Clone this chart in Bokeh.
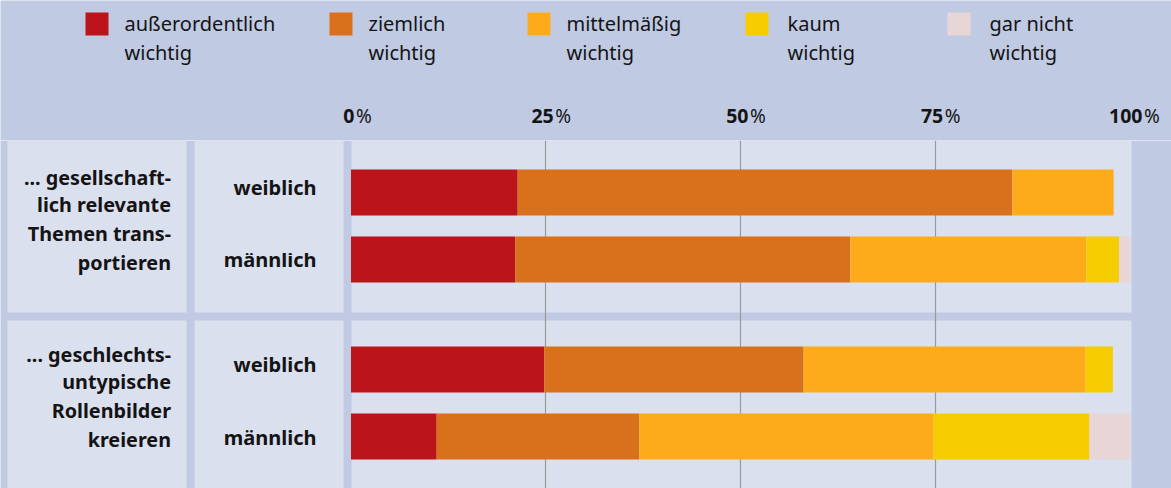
from bokeh.plotting import figure
from bokeh.models import ColumnDataSource, Range1d, FactorRange, Grid, FixedTicker
from bokeh.layouts import column
from bokeh.core.properties import value
from bokeh.embed import file_html
from bokeh.resources import INLINE

# ---------------- data ----------------
categories = ["außerordentlich wichtig", "ziemlich wichtig", "mittelmäßig wichtig",
              "kaum wichtig", "gar nicht wichtig"]
colors = ["#bb141a", "#d9701b", "#fdab1b", "#f5cd00", "#e8d5d5"]

groups = ["gesellschaftlich relevante Themen transportieren",
          "geschlechtsuntypische Rollenbilder kreieren"]
group_lines = [["... gesellschaft-", "lich relevante", "Themen trans-", "portieren"],
               ["... geschlechts-", "untypische", "Rollenbilder", "kreieren"]]
genders = ["weiblich", "männlich"]

# shares in %, in the order of `categories`
g1_weiblich = [21.4, 63.5, 13.0, 0.0, 0.0]
g1_maennlich = [21.1, 43.0, 30.3, 4.2, 1.4]
g2_weiblich = [24.8, 33.3, 36.2, 3.5, 0.0]
g2_maennlich = [11.0, 26.0, 37.8, 20.0, 5.2]

tick_values = [0, 25, 50, 75, 100]
tick_suffix = "%"

# ---------------- styling / layout ----------------
BG = "#c0cae3"
PANEL = "#dbe0ef"
TEXT = "#141414"
FONT = value("Noto Sans")
TY = -8.5          # vertical text correction (px)

W = 1171
HEAD_H = 140
MAIN_H = 348
X0_PX = 350.5      # pixel of 0 %
PX_PER = 7.79      # pixels per percent


def pct(px):
    return (px - X0_PX) / PX_PER


x_range = Range1d(pct(0), pct(W))

# ---------------- header (legend + tick labels) ----------------
head = figure(width=W, height=HEAD_H, x_range=x_range, y_range=Range1d(HEAD_H, 0),
              output_backend="svg", toolbar_location=None, tools="",
              x_axis_location=None, y_axis_location=None, min_border=0,
              outline_line_color=None, background_fill_color=BG, border_fill_color=BG)
head.grid.visible = False

sq_px = [85, 329, 527, 745, 947]
txt_px = [124, 368, 566, 787, 989]
head.quad(left=[pct(v) for v in sq_px], right=[pct(v + 23) for v in sq_px],
          top=12, bottom=35, color=colors, line_color=None)

l1, l2, lx = [], [], []
for c, tx in zip(categories, txt_px):
    a, b = c.rsplit(" ", 1)
    l1.append(a)
    l2.append(b)
    lx.append(pct(tx))
leg_src = ColumnDataSource(dict(x=lx + lx, y=[31 + TY] * len(lx) + [60 + TY] * len(lx),
                                text=l1 + l2))
head.text(x="x", y="y", text="text", source=leg_src, text_font=FONT, text_font_size="20px",
          text_color=TEXT, text_baseline="alphabetic", text_align="left")

num_src = ColumnDataSource(dict(x=tick_values, y=[124 + TY] * len(tick_values),
                                text=[str(v) for v in tick_values],
                                off=[4.5 * len(str(v)) - 1 for v in tick_values],
                                off2=[4.5 * len(str(v)) + 0.5 for v in tick_values],
                                suf=[tick_suffix] * len(tick_values)))
head.text(x="x", y="y", text="text", x_offset="off", source=num_src, text_font=FONT,
          text_font_size="19.5px", text_font_style="bold", text_color=TEXT,
          text_align="right", text_baseline="alphabetic")
head.text(x="x", y="y", text="suf", x_offset="off2", source=num_src, text_font=FONT,
          text_font_size="19px", text_color=TEXT, text_align="left", text_baseline="alphabetic")

# ---------------- main panel ----------------
rows = [(groups[0], genders[0], g1_weiblich), (groups[0], genders[1], g1_maennlich),
        (groups[1], genders[0], g2_weiblich), (groups[1], genders[1], g2_maennlich)]
factors = [(g, s) for g, s, _ in rows][::-1]   # bottom to top

UNIT = 67.0
GP = 110 / UNIT - 1
PAD = (MAIN_H / UNIT - 4 - GP) / 2
y_range = FactorRange(factors=factors, group_padding=GP,
                      range_padding=PAD, range_padding_units="absolute")

main = figure(width=W, height=MAIN_H, x_range=x_range, y_range=y_range,
              output_backend="svg", toolbar_location=None, tools="",
              x_axis_location=None, y_axis_location=None, min_border=0,
              outline_line_color=None, background_fill_color=BG, border_fill_color=BG)
main.grid.visible = False

# panels (3 columns x 2 rows)
cols_px = [(7, 186), (194, 343), (351, 1131)]
row_tb = [((groups[0], genders[0], 2.0), (groups[0], genders[1], -53 / UNIT)),
          ((groups[0], genders[1], -61 / UNIT), (groups[1], genders[1], -2.0))]
pl, pr, pt, pb = [], [], [], []
for t, b in row_tb:
    for a, z in cols_px:
        pl.append(pct(a))
        pr.append(pct(z))
        pt.append(t)
        pb.append(b)
main.quad(left=pl, right=pr, top=pt, bottom=pb, color=PANEL, line_color=None, level="image")

grid = Grid(dimension=0, ticker=FixedTicker(ticks=tick_values[1:-1]),
            grid_line_color="#9a9a9a", grid_line_width=1.2)
main.add_layout(grid)

bar_data = dict(y=[(g, s) for g, s, _ in rows])
for i, c in enumerate(categories):
    bar_data[c] = [vals[i] for _, _, vals in rows]
bar_src = ColumnDataSource(bar_data)
main.hbar_stack(categories, y="y", height=46 / UNIT, color=colors, line_color=None, source=bar_src)

gender_off = {genders[0]: 3 + TY, genders[1]: 9 + TY}
gsrc = ColumnDataSource(dict(x=[pct(316)] * len(rows), y=[(g, s) for g, s, _ in rows],
                             text=[s for _, s, _ in rows],
                             off=[gender_off[s] for _, s, _ in rows]))
main.text(x="x", y="y", text="text", y_offset="off", source=gsrc, text_font=FONT,
          text_font_size="20px", text_font_style="bold", text_color=TEXT,
          text_align="right", text_baseline="alphabetic")

line_off = [-40.5 + TY, -13 + TY, 16 + TY, 45 + TY]
gx, gy, gt, go = [], [], [], []
for g, lines in zip(groups, group_lines):
    for ln, o in zip(lines, line_off):
        gx.append(pct(170.5))
        gy.append(g)
        gt.append(ln)
        go.append(o)
grp_src = ColumnDataSource(dict(x=gx, y=gy, text=gt, off=go))
main.text(x="x", y="y", text="text", y_offset="off", source=grp_src, text_font=FONT,
          text_font_size="19.8px", text_font_style="bold", text_color=TEXT,
          text_align="right", text_baseline="alphabetic")

layout = column(head, main, spacing=0)
open("out.html", "w").write(file_html(layout, INLINE))
